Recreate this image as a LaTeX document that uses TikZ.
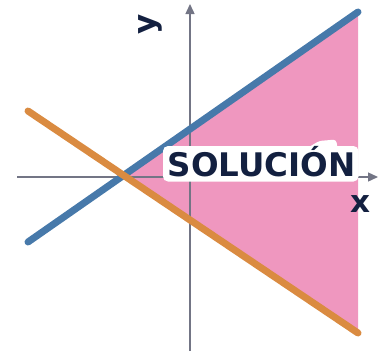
\documentclass[tikz,border=0pt]{standalone}
\usepackage{fontspec}
\setmainfont{DejaVu Sans}
\usetikzlibrary{arrows.meta}
\definecolor{lineblue}{HTML}{4779AA}
\definecolor{lineorange}{HTML}{DA8B41}
\definecolor{regionpink}{HTML}{EF97BF}
\definecolor{axisgray}{HTML}{737585}
\definecolor{textnavy}{HTML}{132040}
\tikzset{
  axis/.style={draw=axisgray, line width=1.4pt, -{Triangle[length=10pt,width=9pt]}},
  graphline/.style={line width=7pt, line cap=round},
  halo/.style={fill=white, rounded corners=5pt},
  lbl/.style={font=\fontsize{32.5}{36}\selectfont\bfseries, text=textnavy, inner sep=0pt, anchor=base},
  axlbl/.style={font=\fontsize{31}{34}\selectfont\bfseries, text=textnavy, inner sep=0pt},
}
\begin{document}
\begin{tikzpicture}[x=1pt,y=-1pt]
\useasboundingbox (0,0) rectangle (383,351);
% endpoints
\coordinate (b1) at (28,242);
\coordinate (b2) at (358,12);
\coordinate (o1) at (28,111);
\coordinate (o2) at (358,333);
\coordinate (p) at (123.6,175.4);
\coordinate (xs) at (17,177);
\coordinate (xe) at (378,177);
\coordinate (ys) at (190,351);
\coordinate (ye) at (190,4);
% solution region
\fill[regionpink] (p) -- (b2) -- (o2) -- cycle;
% axes
\draw[axis] (xs) -- (xe);
\draw[axis] (ys) -- (ye);
% lines
\draw[graphline, lineblue] (b1) -- (b2);
\draw[graphline, lineorange] (o1) -- (o2);
% white halo behind label
\fill[halo] (163,146) rectangle (358.5,181.5);
\fill[white, rounded corners=3pt] (304,150) -- (319,141) -- (336,139.5) -- (338,150) -- cycle;
\node[lbl] (sol) at (261.5,176) {SOLUCIÓN};
\node[axlbl, anchor=base] (xl) at (360,212) {x};
\node[axlbl, rotate=90] (yl) at (150,24) {y};
\end{tikzpicture}
\end{document}
